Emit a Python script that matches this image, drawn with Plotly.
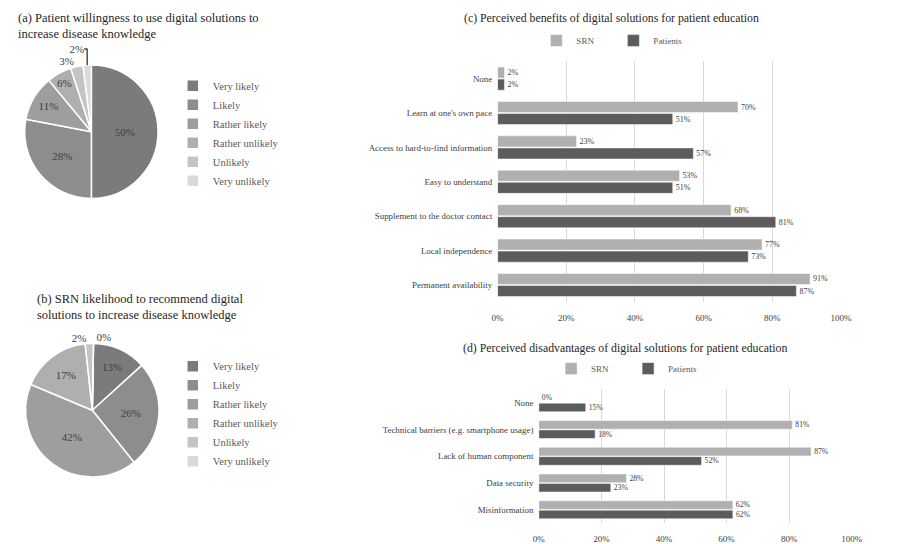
import plotly.graph_objects as go

# ---------------- data ----------------
pie_labels = ["Very likely", "Likely", "Rather likely", "Rather unlikely", "Unlikely", "Very unlikely"]
pie_a_values = [50, 28, 11, 6, 3, 2]
pie_b_values = [13, 26, 42, 17, 2, 0]
pie_colors = ["#7b7b7b", "#8d8d8d", "#9e9e9e", "#afafaf", "#c4c4c4", "#dadada"]

ben_categories = ["None", "Learn at one's own pace", "Access to hard-to-find information",
                  "Easy to understand", "Supplement to the doctor contact",
                  "Local independence", "Permanent availability"]
ben_srn = [2, 70, 23, 53, 68, 77, 91]
ben_patients = [2, 51, 57, 51, 81, 73, 87]

dis_categories = ["None", "Technical barriers (e.g. smartphone usage)", "Lack of human component",
                  "Data security", "Misinformation"]
dis_srn = [0, 81, 87, 28, 62]
dis_patients = [15, 18, 52, 23, 62]

x_ticks = [0, 20, 40, 60, 80, 100]
x_ticktext = ["0%", "20%", "40%", "60%", "80%", "100%"]

# ---------------- style ----------------
FONT = "Liberation Serif"
TXT = "#404040"
SRN_C = "#b0b0b0"
PAT_C = "#5c5c5c"
W, H = 905, 544


def px(x):
    return x / W


def py(y):
    return 1 - y / H


def pct(vals):
    return [f"{v}%" for v in vals]


fig = go.Figure()

# pies
fig.add_trace(go.Pie(
    labels=pie_labels, values=pie_a_values, sort=False, direction="clockwise", rotation=0,
    marker=dict(colors=pie_colors, line=dict(color="white", width=1.5)),
    text=pct(pie_a_values), texttemplate="%{text}",
    textposition=["inside", "inside", "inside", "inside", "outside", "outside"],
    insidetextorientation="horizontal",
    textfont=dict(family=FONT, size=11, color=TXT),
    domain=dict(x=[px(19), px(155)], y=[py(201), py(65)]),
    legend="legend", showlegend=True, hoverinfo="label+value",
))
fig.add_trace(go.Pie(
    labels=[lab + " " for lab in pie_labels], values=pie_b_values, sort=False,
    direction="clockwise", rotation=1,
    marker=dict(colors=pie_colors, line=dict(color="white", width=1.5)),
    text=pct(pie_b_values), texttemplate="%{text}",
    textposition=["inside", "inside", "inside", "inside", "outside", "outside"],
    insidetextorientation="horizontal",
    textfont=dict(family=FONT, size=11, color=TXT),
    domain=dict(x=[px(20), px(156)], y=[py(482), py(346)]),
    legend="legend2", showlegend=True, hoverinfo="label+value",
))

bar_common = dict(orientation="h", textposition="outside", cliponaxis=False,
                  texttemplate="%{text}", textfont=dict(family=FONT, size=8, color=TXT))

# bars (c)
fig.add_trace(go.Bar(y=ben_categories, x=ben_srn, name="SRN", text=pct(ben_srn),
                     marker=dict(color=SRN_C, line=dict(color="white", width=0.5)),
                     xaxis="x", yaxis="y", legend="legend3", **bar_common))
fig.add_trace(go.Bar(y=ben_categories, x=ben_patients, name="Patients", text=pct(ben_patients),
                     marker=dict(color=PAT_C, line=dict(color="white", width=0.5)),
                     xaxis="x", yaxis="y", legend="legend3", **bar_common))
# bars (d)
fig.add_trace(go.Bar(y=dis_categories, x=dis_srn, name="SRN", text=pct(dis_srn),
                     marker=dict(color=SRN_C, line=dict(color="white", width=0.5)),
                     xaxis="x2", yaxis="y2", legend="legend4", **bar_common))
fig.add_trace(go.Bar(y=dis_categories, x=dis_patients, name="Patients", text=pct(dis_patients),
                     marker=dict(color=PAT_C, line=dict(color="white", width=0.5)),
                     xaxis="x2", yaxis="y2", legend="legend4", **bar_common))

xax = dict(range=[0, 100], tickvals=x_ticks, ticktext=x_ticktext, showgrid=True, gridcolor="#d9d9d9",
           gridwidth=1, zeroline=False, showline=False, ticks="", ticklabelstandoff=9,
           tickfont=dict(family=FONT, size=9, color=TXT), fixedrange=True)
yax = dict(autorange="reversed", showgrid=False, zeroline=False, ticks="", showline=False,
           tickfont=dict(family=FONT, size=8.9, color=TXT), ticksuffix="  ")

pie_leg = dict(orientation="v", bgcolor="rgba(0,0,0,0)", borderwidth=0,
               font=dict(family=FONT, size=10.5, color="#595959"), itemclick=False,
               xanchor="left", yanchor="top", itemwidth=30)
bar_leg = dict(orientation="h", bgcolor="rgba(0,0,0,0)", borderwidth=0,
               font=dict(family=FONT, size=9, color="#595959"), itemclick=False,
               xanchor="center", yanchor="middle", itemwidth=30,
               entrywidth=32, entrywidthmode="pixels")

fig.update_layout(
    width=W, height=H, margin=dict(l=0, r=0, t=0, b=0),
    paper_bgcolor="white", plot_bgcolor="white",
    font=dict(family=FONT, color=TXT),
    barmode="group", bargap=0.3, bargroupgap=0.08,
    xaxis=dict(domain=[px(501), px(851)], anchor="y", **xax),
    yaxis=dict(domain=[py(305), py(62)], anchor="x", **yax),
    xaxis2=dict(domain=[px(543), px(862)], anchor="y2", **xax),
    yaxis2=dict(domain=[py(528), py(393)], anchor="x2", **yax),
    legend=dict(x=px(170), y=py(72), **pie_leg),
    legend2=dict(x=px(170), y=py(355), **pie_leg),
    legend3=dict(x=px(619), y=py(41), **bar_leg),
    legend4=dict(x=px(634), y=py(372), **bar_leg),
    annotations=[
        dict(text="(a) Patient willingness to use digital solutions to<br>increase disease knowledge",
             x=px(10), y=py(9), xref="paper", yref="paper", xanchor="left", yanchor="top",
             align="left", showarrow=False, font=dict(family=FONT, size=12.5, color="#262626")),
        dict(text="(b) SRN likelihood to recommend digital<br>solutions to increase disease knowledge",
             x=px(30), y=py(293), xref="paper", yref="paper", xanchor="left", yanchor="top",
             align="left", showarrow=False, font=dict(family=FONT, size=12.5, color="#262626")),
        dict(text="(c) Perceived benefits of digital solutions for patient education",
             x=px(617), y=py(18), xref="paper", yref="paper", xanchor="center", yanchor="middle",
             showarrow=False, font=dict(family=FONT, size=11.8, color="#262626")),
        dict(text="(d) Perceived disadvantages of digital solutions for patient education",
             x=px(631), y=py(351), xref="paper", yref="paper", xanchor="center", yanchor="middle",
             showarrow=False, font=dict(family=FONT, size=11.8, color="#262626")),
    ],
)

fig.write_html("out.html")
